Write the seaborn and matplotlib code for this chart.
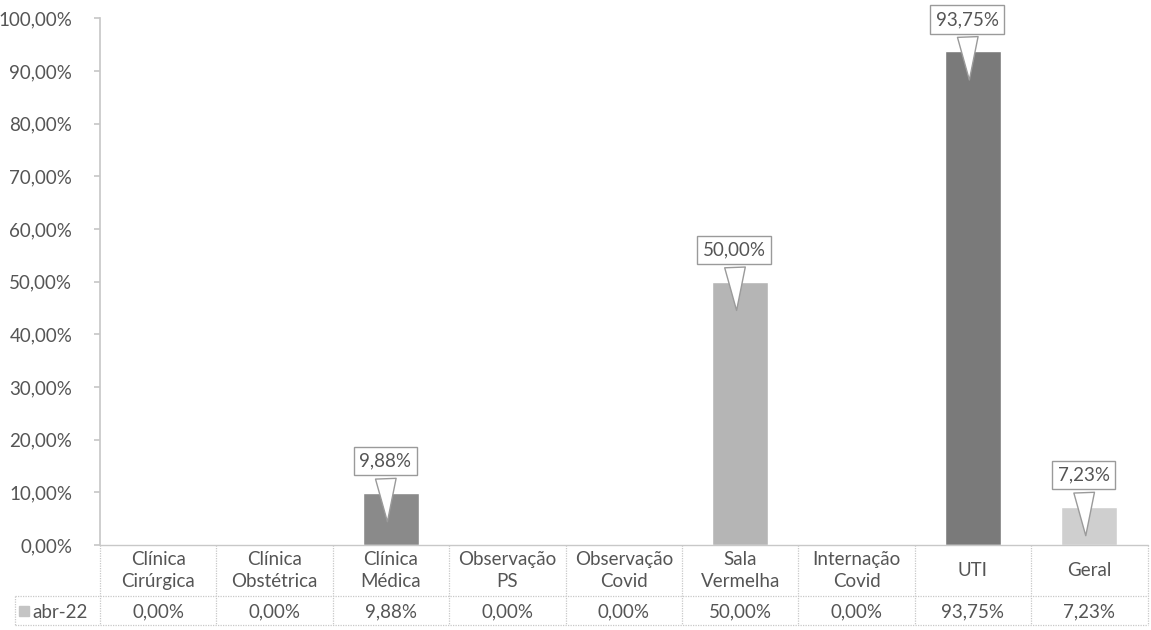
import matplotlib
matplotlib.use("Agg")
import matplotlib.pyplot as plt
import matplotlib.transforms as mtransforms
import pandas as pd
import seaborn as sns

# Data
categories = ["Clínica\nCirúrgica", "Clínica\nObstétrica", "Clínica\nMédica",
              "Observação\nPS", "Observação\nCovid", "Sala\nVermelha",
              "Internação\nCovid", "UTI", "Geral"]
values = [0.00, 0.00, 9.88, 0.00, 0.00, 50.00, 0.00, 93.75, 7.23]
series_name = "abr-22"
bar_colors = ["#9a9a9a", "#b5b5b5", "#8a8a8a", "#a0a0a0", "#bdbdbd",
              "#b5b5b5", "#a8a8a8", "#7a7a7a", "#cfcfcf"]
y_ticks = [0, 10, 20, 30, 40, 50, 60, 70, 80, 90, 100]


def pt_br(v):
    return f"{v:.2f}".replace(".", ",") + "%"


sns.set_theme(style="white")
plt.rcParams["font.family"] = ["Lato", "DejaVu Sans"]
text_color = "#555555"
line_color = "#c8c8c8"
fs = 13.5

df = pd.DataFrame({"cat": categories, "val": values})

fig = plt.figure(figsize=(11.51, 6.30), dpi=100)
ax = fig.add_axes([0.0869, 0.135, 0.9101, 0.836])

sns.barplot(data=df, x="cat", y="val", hue="cat", palette=bar_colors,
            width=0.48, legend=False, ax=ax, saturation=1)

ax.set_ylim(0, 100)
ax.set_xlim(-0.5, len(categories) - 0.5)
ax.set_yticks(y_ticks)
ax.set_yticklabels([pt_br(t) for t in y_ticks], fontsize=fs, color=text_color)
ax.set_xticks([])
ax.set_xlabel("")
ax.set_ylabel("")
ax.tick_params(axis="y", length=4, color=line_color, pad=16, left=True)
for s in ["top", "right", "bottom"]:
    ax.spines[s].set_visible(False)
ax.spines["left"].set_color(line_color)

# callout data labels
for i, v in enumerate(values):
    if v <= 0:
        continue
    ax.annotate(pt_br(v), xy=(i - 0.03, max(v - 6, 1)),
                xytext=(i - 0.05, v + 6), ha="center", va="center",
                fontsize=fs, color=text_color,
                bbox=dict(boxstyle="square,pad=0.3", fc="white", ec="#9a9a9a", lw=1),
                arrowprops=dict(arrowstyle="wedge,tail_width=1.1,shrink_factor=0.5",
                                fc="white", ec="#9a9a9a", lw=1))

# data table under the plot
trans = mtransforms.blended_transform_factory(ax.transData, ax.transAxes)
header_bottom = -0.097
table_bottom = -0.152
n = len(categories)
for i, (c, v) in enumerate(zip(categories, values)):
    ax.text(i, header_bottom / 2, c, transform=trans, ha="center", va="center",
            fontsize=fs, color=text_color, linespacing=1.4, clip_on=False)
    ax.text(i, (header_bottom + table_bottom) / 2 - 0.003, pt_br(v), transform=trans,
            ha="center", va="center", fontsize=fs, color=text_color, clip_on=False)
for b in range(n + 1):
    ax.plot([b - 0.5, b - 0.5], [0, table_bottom], transform=trans, color=line_color,
            lw=0.9, ls=(0, (1, 1)), clip_on=False)
ax.plot([-0.5, n - 0.5], [0, 0], transform=trans, color=line_color, lw=1, clip_on=False)

# row label cell (extends left of the axes)
fig_x0 = 15 / 1151
ax_left_fig = 0.0869
row_trans = mtransforms.blended_transform_factory(fig.transFigure, ax.transAxes)
for yy in [header_bottom, table_bottom]:
    ax.plot([fig_x0, ax_left_fig], [yy, yy], transform=row_trans, color=line_color,
            lw=0.9, ls=(0, (1, 1)), clip_on=False)
    ax.plot([-0.5, n - 0.5], [yy, yy], transform=trans, color=line_color,
            lw=0.9, ls=(0, (1, 1)), clip_on=False)
ax.plot([fig_x0, fig_x0], [header_bottom, table_bottom], transform=row_trans,
        color=line_color, lw=0.9, ls=(0, (1, 1)), clip_on=False)
ymid = (header_bottom + table_bottom) / 2
ax.plot([fig_x0 + 0.0075], [ymid], transform=row_trans, marker="s", ms=7,
        color="#c4c4c4", clip_on=False)
ax.text(fig_x0 + 0.015, ymid - 0.003, series_name, transform=row_trans, ha="left",
        va="center", fontsize=fs, color=text_color, clip_on=False)

fig.savefig("out.png", dpi=100)
